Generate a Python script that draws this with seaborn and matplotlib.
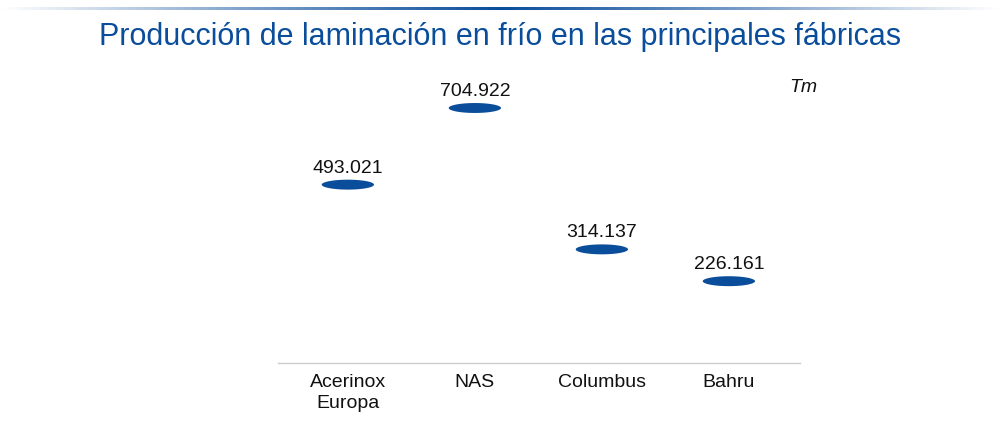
import matplotlib
matplotlib.use("Agg")
import matplotlib.pyplot as plt
import numpy as np
import seaborn as sns
from matplotlib.path import Path
from matplotlib.colors import LinearSegmentedColormap

# Data
fabricas = ["Acerinox\nEuropa", "NAS", "Columbus", "Bahru"]
produccion = [493.021, 704.922, 314.137, 226.161]
etiquetas = ["493.021", "704.922", "314.137", "226.161"]

blue = "#0a4d9b"

sns.set_theme(style="white")
plt.rcParams["font.family"] = ["Liberation Sans", "DejaVu Sans"]

fig = plt.figure(figsize=(10.01, 4.35), dpi=100)
ax = fig.add_axes([278 / 1001, 71 / 435, 522 / 1001, 289.4 / 435])

# Flat ellipse marker (top of a column)
t = np.linspace(0, 2 * np.pi, 60)
ellipse = Path(np.column_stack([np.cos(t), 0.19 * np.sin(t)]), closed=True)

x = list(range(len(fabricas)))
sns.scatterplot(x=x, y=produccion, marker=ellipse, s=1420, color=blue,
                edgecolor="none", linewidth=0, ax=ax, legend=False)

for xi, yi, lab in zip(x, produccion, etiquetas):
    ax.annotate(lab, (xi, yi), xytext=(0, 12.5), textcoords="offset points",
                ha="center", va="center", fontsize=14, color="#111111")

ax.set_xlim(-0.55, 3.56)
ax.set_ylim(0, 800)
ax.set_xticks(x)
ax.set_xticklabels(fabricas, fontsize=14, color="#111111", linespacing=1.25)
ax.set_yticks([])
ax.tick_params(axis="x", length=0, pad=7.5)
for side in ["left", "right", "top"]:
    ax.spines[side].set_visible(False)
ax.spines["bottom"].set_color("#cccccc")
ax.spines["bottom"].set_linewidth(1)
ax.set_xlabel("")
ax.set_ylabel("")

# Gradient line at the top
gax = fig.add_axes([0, 1 - 11 / 435, 1, 3 / 435])
cmap = LinearSegmentedColormap.from_list("g", ["#ffffff", "#7c9fc9", blue, "#7c9fc9", "#ffffff"])
gax.imshow(np.linspace(0, 1, 500).reshape(1, -1), aspect="auto", cmap=cmap)
gax.axis("off")

fig.text(0.5, 1 - 37 / 435, "Producción de laminación en frío en las principales fábricas",
         ha="center", va="center", fontsize=22, color=blue)
fig.text(803 / 1001, 1 - 88 / 435, "Tm", ha="center", va="center",
         fontsize=14, style="italic", color="#111111")

fig.savefig("out.png", dpi=100)
